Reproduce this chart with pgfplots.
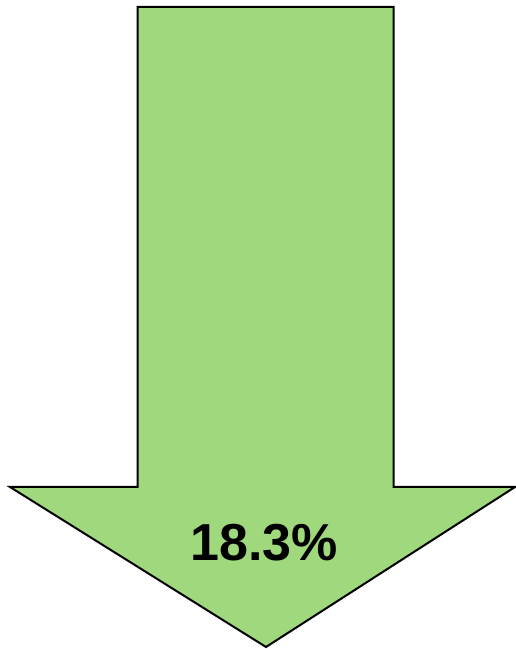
\documentclass[border=0pt]{standalone}
\usepackage{pgfplots}
\pgfplotsset{compat=1.18}
\usepackage{fontspec}
\setmainfont{Liberation Sans}
\definecolor{arrowgreen}{RGB}{160,216,125}

\begin{document}
\begin{tikzpicture}
  \begin{axis}[
      width=387pt, height=486.75pt,
      scale only axis,
      xmin=0, xmax=516,
      ymin=0, ymax=649,
      hide axis,
      clip=false,
    ]
    % down arrow outline (pixel units, y measured from bottom)
    \addplot[fill=arrowgreen, draw=black, line width=1.5pt, line join=miter] coordinates {
      (137.5,642) (393.5,642) (393.5,162) (515,162) (266,2) (10,162) (137.5,162) (137.5,642)
    } -- cycle;
    \node[font=\bfseries\fontsize{39}{39}\selectfont, anchor=center] at (axis cs:264,106) {18.3\%};
  \end{axis}
  \pgfresetboundingbox
  \path (current axis.south west) rectangle (current axis.north east);
\end{tikzpicture}
\end{document}
